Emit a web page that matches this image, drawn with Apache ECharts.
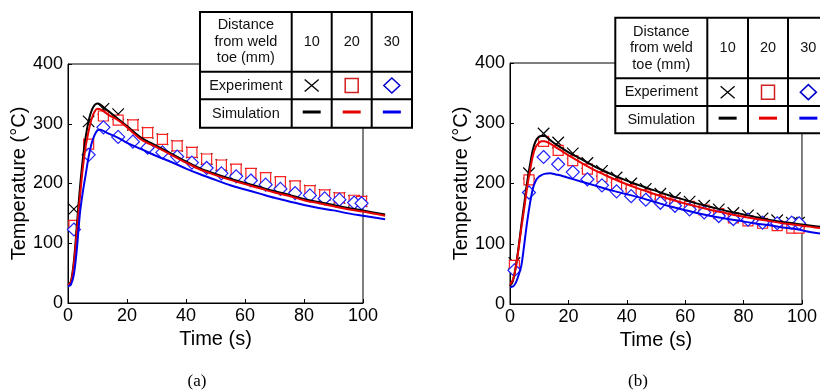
<!DOCTYPE html>
<html><head><meta charset="utf-8">
<script src="https://cdn.jsdelivr.net/npm/echarts@6/dist/echarts.min.js"></script>
<style>html,body{margin:0;padding:0;background:#fff}#c{width:820px;height:392px}</style>
</head><body><div id="c"></div>
<script>
// ---------- data ----------
const xTicks = [0, 20, 40, 60, 80, 100];
const yTicks = [0, 100, 200, 300, 400];
const simEnd = 108;            // simulation curves run past the 100 s axis end
const distances = ['10', '20', '30'];
const rowLabels = ['Distance\nfrom weld\ntoe (mm)', 'Experiment', 'Simulation'];
const panelLabels = ['(a)', '(b)'];

// (a) experiment
const expTimeA = [2, 7, 12, 17, 22, 27, 32, 37, 42, 47, 52, 57, 62, 67, 72, 77, 82, 87, 92, 97, 99.5];
const expA10 = [157, 304, 325, 316, 298, 285, 274, 263, 252, 241, 231, 223, 216, 209, 202, 195, 188, 181, 176, 171, 170];
const expA20 = [130, 266, 313, 306, 298, 285, 274, 263, 252, 241, 231, 224, 217, 210, 203, 196, 188, 181, 176, 172, 170];
const expA30 = [123, 248, 294, 278, 270, 260, 252, 245, 235, 226, 217, 212, 205, 198, 191, 184, 180, 175, 173, 168, 167];
// (a) simulation
const simTimeA = [0, 1, 2, 3, 4, 5, 6, 7, 8, 9, 10, 11, 12, 14, 16, 18, 20, 25, 30, 35, 40, 45, 50, 55, 60, 65, 70, 75, 80, 85, 90, 95, 100, 107.5];
const simA10 = [30, 36, 70, 130, 190, 240, 278, 305, 322, 331, 334, 332, 328, 320, 312, 304, 296, 276, 263, 250, 237, 225, 216, 208, 201, 194, 187, 181, 174, 169, 164, 159, 155, 148];
const simA20 = [30, 35, 65, 120, 175, 225, 262, 288, 308, 320, 325, 324, 321, 314, 309, 302, 294, 273, 261, 248, 235, 223, 214, 206, 199, 192, 185, 179, 172, 167, 162, 157, 153, 146];
const simA30 = [28, 31, 48, 90, 148, 185, 215, 245, 267, 281, 289, 290, 288, 283, 279, 274, 268, 257, 246, 236, 225, 215, 206, 197, 190, 183, 176, 170, 164, 159, 155, 150, 146, 140];

// (b) experiment
const expTimeB = [1.5, 6.5, 11.5, 16.5, 21.5, 26.5, 31.5, 36.5, 41.5, 46.5, 51.5, 56.5, 61.5, 66.5, 71.5, 76.5, 81.5, 86.5, 91.5, 96.5, 99];
const expB10 = [68, 217, 283, 268, 250, 234, 221, 210, 200, 191, 183, 176, 170, 163, 157, 151, 147, 142, 139, 135, 135];
const expB20 = [64, 206, 270, 255, 238, 224, 211, 199, 190, 181, 173, 168, 162, 156, 150, 143, 138, 134, 130, 126, 126];
const expB30 = [56, 185, 244, 232, 219, 207, 197, 187, 179, 173, 168, 163, 157, 152, 146, 141, 140, 135, 134, 135, 134];
// (b) simulation
const simTimeB = [0, 1, 2, 3, 4, 5, 6, 7, 8, 9, 10, 11, 12, 14, 16, 18, 20, 25, 30, 35, 40, 45, 50, 55, 60, 65, 70, 75, 80, 85, 90, 95, 100, 105, 108];
const simB10 = [30, 38, 62, 95, 133, 168, 203, 232, 257, 271, 277, 279, 279, 272, 265, 259, 253, 240, 227, 216, 206, 197, 189, 181, 174, 167, 161, 155, 150, 145, 140, 136, 133, 130, 128];
const simB20 = [32, 40, 60, 92, 128, 160, 195, 222, 247, 261, 267, 270, 270, 266, 260, 254, 248, 234, 221, 210, 200, 191, 183, 175, 168, 162, 156, 151, 146, 142, 138, 134, 131, 128, 126];
const simB30 = [28, 29, 35, 48, 65, 100, 137, 168, 192, 205, 211, 214, 216, 217, 215, 213, 210, 203, 196, 189, 183, 177, 170, 163, 157, 151, 146, 142, 138, 134, 131, 127, 124, 119, 117];

// ---------- styling ----------
const COLORS = ['#000000', '#e60000', '#0000ee'];
const MARK_COLORS = ['#000000', '#ff2020', '#2020ff'];
const MARK_FILLS = ['rgba(0,0,0,0)', '#ffffff', '#ffffff'];
const crossPath = 'path://M0,0L10,10M10,0L0,10';
const FONT = '"Liberation Sans", Arial, sans-serif';
const PLOT_W = 295;
const xMax = xTicks[xTicks.length - 1];

const zip = (a, b) => a.map((v, i) => [v, b[i]]);

const chart = echarts.init(document.getElementById('c'), null, { renderer: 'canvas' });

function makeX(idx) {
  return {
    type: 'value', gridIndex: idx, min: xTicks[0], max: xMax, interval: 20,
    name: 'Time (s)', nameLocation: 'middle', nameGap: 21,
    nameTextStyle: { fontSize: 20, color: '#000', fontFamily: FONT },
    axisLine: { show: true, lineStyle: { color: '#000', width: 1 } },
    axisTick: { show: true, inside: true, length: 4, lineStyle: { color: '#000' } },
    axisLabel: { fontSize: 18, color: '#000', fontFamily: FONT, margin: 4 },
    splitLine: { show: false }
  };
}
function makeY(idx) {
  return {
    type: 'value', gridIndex: idx, min: yTicks[0], max: yTicks[yTicks.length - 1], interval: 100,
    name: 'Temperature (°C)', nameLocation: 'middle', nameGap: 36,
    nameTextStyle: { fontSize: 20, color: '#000', fontFamily: FONT },
    axisLine: { show: true, lineStyle: { color: '#000', width: 1 } },
    axisTick: { show: true, inside: true, length: 4, lineStyle: { color: '#000' } },
    axisLabel: { fontSize: 18, color: '#000', fontFamily: FONT, margin: 5 },
    splitLine: { show: false }
  };
}
function hiddenX(idx) {
  return { type: 'value', gridIndex: idx, min: 0, max: simEnd, show: false, splitLine: { show: false } };
}
function hiddenY(idx) {
  return { type: 'value', gridIndex: idx, min: yTicks[0], max: yTicks[yTicks.length - 1], show: false, splitLine: { show: false } };
}

function expSeries(idx, t, ys) {
  const syms = [crossPath, 'rect', 'diamond'];
  const sizes = [11.5, 10, [13, 13]];
  return ys.map((y, k) => ({
    type: 'scatter', xAxisIndex: idx, yAxisIndex: idx, data: zip(t, y),
    symbol: syms[k], symbolSize: sizes[k], clip: false, silent: true, z: 2 + k,
    itemStyle: { color: MARK_FILLS[k], borderColor: MARK_COLORS[k], borderWidth: 1.2, opacity: 1 }
  }));
}
function simSeries(idx, t, ys) {
  return ys.map((y, k) => ({
    type: 'line', xAxisIndex: idx, yAxisIndex: idx, data: zip(t, y),
    showSymbol: false, symbol: 'none', smooth: 0.3, clip: false, silent: true, z: 6 + k,
    lineStyle: { color: COLORS[k], width: 2 }
  }));
}

function table(cx, ry) {
  const els = [];
  const Z = 100;
  els.push({ type: 'rect', z: Z, shape: { x: cx[0], y: ry[0], width: cx[4] - cx[0], height: ry[3] - ry[0] },
    style: { fill: '#fff', stroke: '#000', lineWidth: 2 } });
  for (let i = 1; i < 4; i++) els.push({ type: 'line', z: Z + 1, shape: { x1: cx[i], y1: ry[0], x2: cx[i], y2: ry[3] }, style: { stroke: '#000', lineWidth: 2 } });
  for (let j = 1; j < 3; j++) els.push({ type: 'line', z: Z + 1, shape: { x1: cx[0], y1: ry[j], x2: cx[4], y2: ry[j] }, style: { stroke: '#000', lineWidth: 2 } });
  const mid = (a, b) => (a + b) / 2;
  const c0 = mid(cx[0], cx[1]);
  for (let j = 0; j < 3; j++) {
    els.push({ type: 'text', z: Z + 2, style: { x: c0, y: mid(ry[j], ry[j + 1]), text: rowLabels[j], fill: '#111',
      font: '14.5px ' + FONT, align: 'center', verticalAlign: 'middle', lineHeight: 16.5 } });
  }
  for (let i = 0; i < 3; i++) {
    const xc = mid(cx[i + 1], cx[i + 2]);
    els.push({ type: 'text', z: Z + 2, style: { x: xc, y: mid(ry[0], ry[1]), text: distances[i], fill: '#111',
      font: '14.5px ' + FONT, align: 'center', verticalAlign: 'middle' } });
    const ym = mid(ry[1], ry[2]);
    if (i === 0) {
      els.push({ type: 'line', z: Z + 2, shape: { x1: xc - 7, y1: ym - 6, x2: xc + 7, y2: ym + 6 }, style: { stroke: '#000', lineWidth: 1.3 } });
      els.push({ type: 'line', z: Z + 2, shape: { x1: xc - 7, y1: ym + 6, x2: xc + 7, y2: ym - 6 }, style: { stroke: '#000', lineWidth: 1.3 } });
    } else if (i === 1) {
      els.push({ type: 'rect', z: Z + 2, shape: { x: xc - 6.5, y: ym - 7, width: 13, height: 14 }, style: { fill: 'none', stroke: '#d02020', lineWidth: 1.5 } });
    } else {
      els.push({ type: 'polygon', z: Z + 2, shape: { points: [[xc, ym - 7.5], [xc + 8, ym], [xc, ym + 7.5], [xc - 8, ym]] }, style: { fill: 'none', stroke: '#0000cc', lineWidth: 1.5 } });
    }
    const ys = mid(ry[2], ry[3]) - 1.5;
    els.push({ type: 'line', z: Z + 2, shape: { x1: xc - 9, y1: ys, x2: xc + 9, y2: ys }, style: { stroke: COLORS[i], lineWidth: 3 } });
  }
  return els;
}

const graphics = []
  .concat(table([200, 291.7, 331.7, 371.7, 412], [12, 71.7, 99.3, 127.7]))
  .concat(table([615.3, 707.3, 748, 788, 828.7], [17.7, 78.3, 106, 133.3]))
  .concat([
    { type: 'text', z: 50, style: { x: 197, y: 382, text: panelLabels[0], fill: '#000', font: '17px "Liberation Serif", "Times New Roman", serif', align: 'center', verticalAlign: 'middle' } },
    { type: 'text', z: 50, style: { x: 638, y: 382, text: panelLabels[1], fill: '#000', font: '17px "Liberation Serif", "Times New Roman", serif', align: 'center', verticalAlign: 'middle' } }
  ]);

const extW = PLOT_W * simEnd / xMax;

chart.setOption({
  animation: false,
  backgroundColor: '#fff',
  grid: [
    { left: 68, top: 64, width: PLOT_W, height: 239, show: true, borderColor: '#000', borderWidth: 1, backgroundColor: 'rgba(0,0,0,0)' },
    { left: 510, top: 63, width: PLOT_W, height: 241, show: true, borderColor: '#000', borderWidth: 1, backgroundColor: 'rgba(0,0,0,0)' },
    { left: 68, top: 64, width: extW, height: 239, show: false },
    { left: 510, top: 63, width: extW, height: 241, show: false }
  ],
  xAxis: [makeX(0), makeX(1), hiddenX(2), hiddenX(3)],
  yAxis: [makeY(0), makeY(1), hiddenY(2), hiddenY(3)],
  series: []
    .concat(expSeries(0, expTimeA, [expA10, expA20, expA30]))
    .concat(simSeries(2, simTimeA, [simA10, simA20, simA30]))
    .concat(expSeries(1, expTimeB, [expB10, expB20, expB30]))
    .concat(simSeries(3, simTimeB, [simB10, simB20, simB30])),
  graphic: graphics
});
</script>
</body></html>
